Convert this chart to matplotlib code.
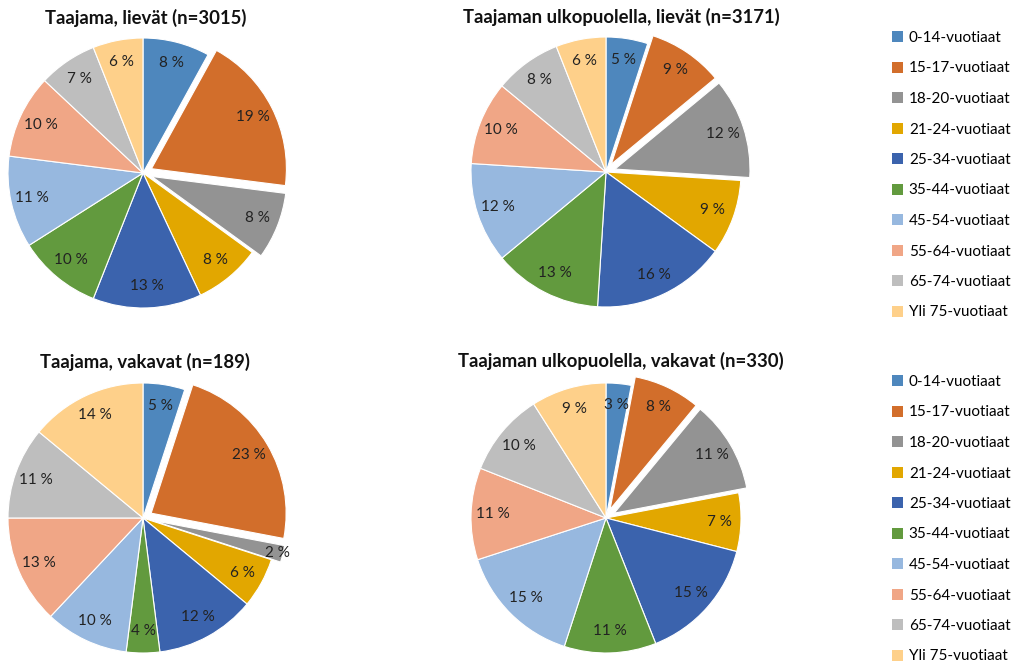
import matplotlib.pyplot as plt
from matplotlib.patches import Patch

plt.rcParams['font.family'] = ['Lato', 'DejaVu Sans']

# age groups and their colours
groups = ["0-14-vuotiaat", "15-17-vuotiaat", "18-20-vuotiaat", "21-24-vuotiaat",
          "25-34-vuotiaat", "35-44-vuotiaat", "45-54-vuotiaat", "55-64-vuotiaat",
          "65-74-vuotiaat", "Yli 75-vuotiaat"]
colors = ["#4E87BD", "#D26E2B", "#939393", "#E2A700", "#3B63AD",
          "#629A3E", "#97B8DF", "#F0A686", "#BEBEBE", "#FED08A"]

# shares (%) per group
taajama_lievat = [8, 19, 8, 8, 13, 10, 11, 10, 7, 6]
ulko_lievat = [5, 9, 12, 9, 16, 13, 12, 10, 8, 6]
taajama_vakavat = [5, 23, 2, 6, 12, 4, 10, 13, 11, 14]
ulko_vakavat = [3, 8, 11, 7, 15, 11, 15, 11, 10, 9]

titles = ["Taajama, lievät (n=3015)", "Taajaman ulkopuolella, lievät (n=3171)",
          "Taajama, vakavat (n=189)", "Taajaman ulkopuolella, vakavat (n=330)"]

W, H = 1014, 664
fig = plt.figure(figsize=(W / 100, H / 100), dpi=100)

R = 135
pies = [
    (taajama_lievat, (143, 173), titles[0], 146, 18),
    (ulko_lievat, (606, 172), titles[1], 621, 17),
    (taajama_vakavat, (143, 518), titles[2], 145, 362),
    (ulko_vakavat, (606, 518), titles[3], 621, 361),
]

explode = [0, 0.07, 0.07, 0, 0, 0, 0, 0, 0, 0]

for values, (cx, cy), title, tx, ty in pies:
    ax = fig.add_axes([(cx - R) / W, (H - cy - R) / H, 2 * R / W, 2 * R / H])
    wedges, texts = ax.pie(values, colors=colors, startangle=90, counterclock=False,
                           explode=explode, labels=[f"{v} %" for v in values],
                           labeldistance=0.84,
                           wedgeprops=dict(edgecolor="white", linewidth=0.8),
                           textprops=dict(fontsize=11, color="#222222", ha="center", va="center"))
    for w in wedges:
        w.set_clip_on(False)
    for i, t in enumerate(texts):
        t.set_clip_on(False)
        t.set_horizontalalignment("center")
        if values[i] <= 2:
            x, y = t.get_position()
            t.set_position((x * 1.13, y * 1.13))
    ax.set_xlim(-1, 1)
    ax.set_ylim(-1, 1)
    ax.set_aspect("equal")
    ax.axis("off")
    fig.text(tx / W, 1 - ty / H, title, ha="center", va="center",
             fontsize=13.3, fontweight="bold", color="#111111")

handles = [Patch(facecolor=c, edgecolor="none") for c in colors]
for top in (31, 375):
    fig.legend(handles, groups, loc="upper left", bbox_to_anchor=(892 / W, 1 - top / H),
               frameon=False, fontsize=11, handlelength=0.7, handleheight=0.7,
               handletextpad=0.4, labelspacing=1.08, borderaxespad=0, borderpad=0)

fig.savefig("out.png", dpi=100)
